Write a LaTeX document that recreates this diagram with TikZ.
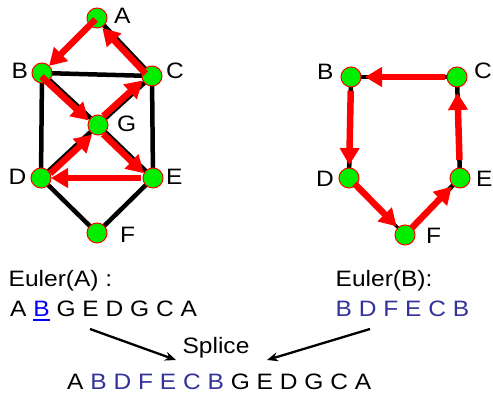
\documentclass[tikz,border=0pt]{standalone}
\usepackage{fontspec}
\setmainfont{Liberation Sans}[FakeStretch=1.1]
\usetikzlibrary{arrows.meta,calc}
\definecolor{vgreen}{RGB}{0,238,0}
\definecolor{vred}{RGB}{255,0,0}
\definecolor{seqblue}{RGB}{51,51,153}
\definecolor{ulblue}{RGB}{0,0,255}
\newcommand\ulB{\setbox0\hbox{B}\rlap{\rule[-4.5pt]{\wd0}{1.7pt}}B}
\begin{document}
\begin{tikzpicture}[x=1pt,y=1pt,
  vtx/.style={circle,draw=vred,line width=1pt,fill=vgreen,minimum size=20pt,inner sep=0pt},
  lbl/.style={anchor=base west,inner sep=0pt,font=\fontsize{22.3}{26}\selectfont},
  txt/.style={anchor=base west,inner sep=0pt,font=\fontsize{22.3}{26}\selectfont},
  edge/.style={line width=4.5pt,black},
  redarr/.style={line width=6.5pt,vred,-{Triangle[length=17pt,width=19pt]}},
  splarr/.style={line width=2.3pt,black,-{Stealth[length=11pt,width=9pt]}}]
\useasboundingbox (0,0) rectangle (493,396);
% left graph coordinates
\coordinate (A) at (97,378);
\coordinate (B) at (42,323);
\coordinate (C) at (152,320);
\coordinate (G) at (98,271);
\coordinate (D) at (41,218);
\coordinate (E) at (153,218);
\coordinate (F) at (97,163);
% right graph coordinates
\coordinate (B2) at (351,319);
\coordinate (C2) at (457,319);
\coordinate (D2) at (349,218);
\coordinate (E2) at (460,218);
\coordinate (F2) at (405,161);
% black edges
\draw[edge] (A) -- (C);
\draw[edge] (B) -- (C);
\draw[edge] (B) -- (G);
\draw[edge] (B) -- (D);
\draw[edge] (C) -- (G);
\draw[edge] (C) -- (E);
\draw[edge] (G) -- (D);
\draw[edge] (G) -- (E);
\draw[edge] (D) -- (F);
\draw[edge] (F) -- (E);
\draw[edge] (B2) -- (C2);
\draw[edge] (B2) -- (D2);
\draw[edge,line width=3pt] (D2) -- (F2);
\draw[edge] (F2) -- (E2);
\draw[edge] (E2) -- (C2);
% vertices
\foreach \v in {A,B,C,G,D,E,F,B2,C2,D2,E2,F2} \node[vtx] (n\v) at (\v) {};
% red arrows left
\draw[redarr,shorten <=2pt,shorten >=10pt] (A) -- (B);
\draw[redarr,shorten <=2pt,shorten >=10pt] ($(B)!3pt!-90:(G)$) -- ($(G)!3pt!90:(B)$);
\draw[redarr,shorten <=10pt,shorten >=10pt] ($(G)!3pt!-90:(E)$) -- ($(E)!3pt!90:(G)$);
\draw[redarr,shorten <=12pt,shorten >=10pt] (E) -- (D);
\draw[redarr,shorten <=10pt,shorten >=11pt] ($(D)!3pt!-90:(G)$) -- ($(G)!3pt!90:(D)$);
\draw[redarr,shorten <=10pt,shorten >=10pt] ($(G)!3pt!90:(C)$) -- ($(C)!3pt!-90:(G)$);
\draw[redarr,shorten <=6pt,shorten >=11pt] ($(C)!3pt!90:(A)$) -- ($(A)!3pt!-90:(C)$);
% red arrows right
\draw[redarr,shorten <=12pt,shorten >=14pt] (C2) -- (B2);
\draw[redarr,shorten <=14pt,shorten >=13pt] (B2) -- (D2);
\draw[redarr,shorten <=8pt,shorten >=12pt] (D2) -- (F2);
\draw[redarr,shorten <=10pt,shorten >=12pt] (F2) -- (E2);
\draw[redarr,shorten <=18pt,shorten >=16pt] (E2) -- (C2);
% vertex labels
\node[lbl] (lA) at (114,372.7) {A};
\node[lbl] (lB) at (11.5,317.7) {B};
\node[lbl] (lC) at (166,317) {C};
\node[lbl] (lG) at (117,264) {G};
\node[lbl] (lD) at (8.5,211) {D};
\node[lbl] (lE) at (166,211) {E};
\node[lbl] (lF) at (120,153.3) {F};
\node[lbl] (lB2) at (317,316.7) {B};
\node[lbl] (lC2) at (474,317) {C};
\node[lbl] (lD2) at (316,209) {D};
\node[lbl] (lE2) at (476,209) {E};
\node[lbl] (lF2) at (426,152) {F};
% texts
\node[txt] (eA) at (8.5,109.3) {Euler(A) :};
\node[txt] (sA) at (10,79.3) {A {\color{ulblue}\ulB} G E D G C A};
\node[txt] (eB) at (335.5,109.3) {Euler(B):};
\node[txt,text=seqblue] (sB) at (335.5,79.3) {B D F E C B};
\node[txt,anchor=base] (spl) at (216,42.7) {Splice};
\node[txt] (res) at (67,6) {A {\color{seqblue}B D F E C B} G E D G C A};
\coordinate (p1) at (90,67);
\coordinate (q1) at (176,36);
\coordinate (p2) at (370,67);
\coordinate (q2) at (267,36);
\draw[splarr] (p1) -- (q1);
\draw[splarr] (p2) -- (q2);
\end{tikzpicture}
\end{document}
